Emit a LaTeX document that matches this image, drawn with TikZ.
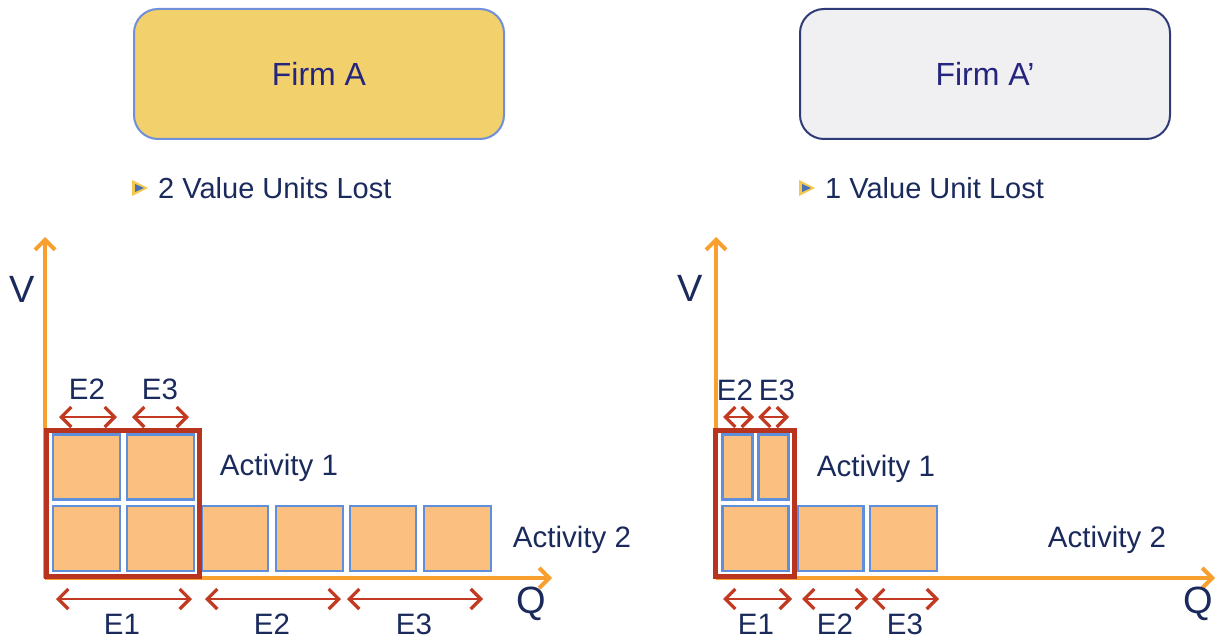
\documentclass[tikz,border=0pt]{standalone}
\usepackage{fontspec}
\setmainfont{Liberation Sans}
\usetikzlibrary{arrows.meta}
\definecolor{navy}{HTML}{1B2A5C}
\definecolor{firmtext}{HTML}{25257E}
\definecolor{gold}{HTML}{F2D06B}
\definecolor{goldedge}{HTML}{6F8FD8}
\definecolor{greyfill}{HTML}{F0F0F2}
\definecolor{greyedge}{HTML}{2E3B78}
\definecolor{axisor}{HTML}{F7A030}
\definecolor{triyel}{HTML}{F2C94C}
\definecolor{sqfill}{HTML}{FBBF80}
\definecolor{sqedge}{HTML}{5F8EDB}
\definecolor{lossred}{HTML}{B8341F}
\definecolor{arrred}{HTML}{C23A22}
\tikzset{
  firmbox/.style={rounded corners=24pt, line width=2pt, minimum width=370pt, minimum height=130pt, inner sep=0pt, text=firmtext, font=\fontsize{32}{36}\selectfont},
  bullettext/.style={anchor=west, text=navy, inner sep=0pt, font=\fontsize{29}{33}\selectfont},
  lbl/.style={text=navy, inner sep=0pt, font=\fontsize{29.5}{33}\selectfont},
  axlbl/.style={text=navy, inner sep=0pt, font=\fontsize{38}{42}\selectfont},
  axisline/.style={draw=axisor, line width=4pt, -{Straight Barb[length=10pt,width=20pt,line width=4pt]}},
  sq/.style={draw=sqedge, fill=sqfill, line width=2.6pt, inner sep=0pt, minimum height=65pt},
  lossbox/.style={draw=lossred, line width=5pt, inner sep=0pt, minimum height=146pt},
  dim/.style={draw=arrred, line width=2.8pt, {Straight Barb[length=10pt,width=20pt,line width=3.2pt]}-{Straight Barb[length=10pt,width=20pt,line width=3.2pt]}}
}
\begin{document}
\begin{tikzpicture}[x=1pt,y=-1pt]
\useasboundingbox (0,0) rectangle (1215,639);

% ---------- Left: Firm A ----------
\node[firmbox, draw=goldedge, fill=gold] (firmA) at (319,74) {Firm A};
\fill[triyel] (132,180) -- (148,188) -- (132,196) -- cycle;
\fill[sqedge!70!navy] (135,184) -- (144,188) -- (135,192) -- cycle;
\node[bullettext] (lostA) at (158,188) {2 Value Units Lost};

\coordinate (oA) at (45,578);
\coordinate (vA) at (45,237);
\coordinate (qA) at (552,578);
\draw[axisline] (oA) -- (vA);
\draw[axisline] (oA) -- (qA);
\node[axlbl] (VA) at (22,289) {V};
\node[axlbl] (QA) at (531,604) {Q};

% squares
\node[sq, minimum width=67pt] (a11) at (86.5,467) {};
\node[sq, minimum width=67pt] (a12) at (160.5,467) {};
\node[sq, minimum width=67pt] (a21) at (86.5,538.5) {};
\node[sq, minimum width=67pt] (a22) at (160.5,538.5) {};
\node[sq, minimum width=66pt] (a23) at (235,538.5) {};
\node[sq, minimum width=67pt] (a24) at (309.5,538.5) {};
\node[sq, minimum width=66pt] (a25) at (383,538.5) {};
\node[sq, minimum width=67pt] (a26) at (457.5,538.5) {};
\node[lossbox, minimum width=153pt] (lossA) at (122.5,503.5) {};

\node[lbl] (act1A) at (279,468) {Activity 1};
\node[lbl] (act2A) at (572,540) {Activity 2};

% dimension arrows
\coordinate (tA2l) at (59,417); \coordinate (tA2r) at (117,417);
\coordinate (tA3l) at (132,417); \coordinate (tA3r) at (189,417);
\draw[dim] (tA2l) -- (tA2r);
\draw[dim] (tA3l) -- (tA3r);
\node[lbl] (tE2A) at (87,389) {E2};
\node[lbl] (tE3A) at (160,389) {E3};

\coordinate (bA1l) at (56,599); \coordinate (bA1r) at (192,599);
\coordinate (bA2l) at (205,599); \coordinate (bA2r) at (341,599);
\coordinate (bA3l) at (347,599); \coordinate (bA3r) at (483,599);
\draw[dim] (bA1l) -- (bA1r);
\draw[dim] (bA2l) -- (bA2r);
\draw[dim] (bA3l) -- (bA3r);
\node[lbl] (bE1A) at (122,624) {E1};
\node[lbl] (bE2A) at (272,624) {E2};
\node[lbl] (bE3A) at (414,624) {E3};

% ---------- Right: Firm A' ----------
\node[firmbox, draw=greyedge, fill=greyfill] (firmB) at (985,74) {Firm A’};
\fill[triyel] (799,180) -- (815,188) -- (799,196) -- cycle;
\fill[sqedge!70!navy] (802,184) -- (811,188) -- (802,192) -- cycle;
\node[bullettext] (lostB) at (825,188) {1 Value Unit Lost};

\coordinate (oB) at (716,578);
\coordinate (vB) at (716,237);
\coordinate (qB) at (1215,578);
\draw[axisline] (oB) -- (vB);
\draw[axisline] (oB) -- (qB);
\node[axlbl] (VB) at (690,288) {V};
\node[axlbl] (QB) at (1198,604) {Q};

\node[sq, minimum width=30pt] (b11) at (737.5,467) {};
\node[sq, minimum width=30pt] (b12) at (773.5,467) {};
\node[sq, minimum width=66pt] (b21) at (755.5,538.5) {};
\node[sq, minimum width=66pt] (b22) at (830.5,538.5) {};
\node[sq, minimum width=67pt] (b23) at (903.5,538.5) {};
\node[lossbox, minimum width=79pt] (lossB) at (754.5,503.5) {};

\node[lbl] (act1B) at (876,469) {Activity 1};
\node[lbl] (act2B) at (1107,540) {Activity 2};

\coordinate (tB2l) at (723,417); \coordinate (tB2r) at (754,417);
\coordinate (tB3l) at (758,417); \coordinate (tB3r) at (789,417);
\draw[dim] (tB2l) -- (tB2r);
\draw[dim] (tB3l) -- (tB3r);
\node[lbl] (tE2B) at (735,390) {E2};
\node[lbl] (tE3B) at (777,390) {E3};

\coordinate (bB1l) at (723,599); \coordinate (bB1r) at (792,599);
\coordinate (bB2l) at (802,599); \coordinate (bB2r) at (868,599);
\coordinate (bB3l) at (872,599); \coordinate (bB3r) at (939,599);
\draw[dim] (bB1l) -- (bB1r);
\draw[dim] (bB2l) -- (bB2r);
\draw[dim] (bB3l) -- (bB3r);
\node[lbl] (bE1B) at (756,624) {E1};
\node[lbl] (bE2B) at (835,624) {E2};
\node[lbl] (bE3B) at (905,624) {E3};
\end{tikzpicture}
\end{document}
